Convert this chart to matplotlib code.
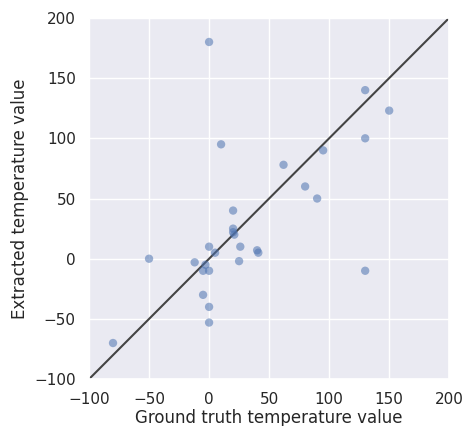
import matplotlib
matplotlib.use("Agg")
import matplotlib.pyplot as plt
import seaborn as sns

sns.set_theme(style="darkgrid")
plt.rcParams['font.family'] = ['DejaVu Sans']

ground_truth = [0, 10, 130, 150, 130, 95, 62, 80, 90, 20, 20, 20, 21, 0, 5, 26, 40, 41,
                -50, -12, 25, -3, -5, 0, -5, 0, 0, -80, 130]
extracted = [180, 95, 140, 123, 100, 90, 78, 60, 50, 40, 25, 22, 20, 10, 5, 10, 7, 5,
             0, -3, -2, -5, -10, -10, -30, -40, -53, -70, -10]
lims = [-100, 200]

fig = plt.figure(figsize=(4.66, 4.26), dpi=100)
ax = fig.add_axes([0.191, 0.110, 0.773, 0.848])
ax.scatter(ground_truth, extracted, s=36, alpha=0.55, color="#4c72b0", edgecolor="none", zorder=3)
ax.plot(lims, lims, color="#444444", linewidth=1.5, zorder=2)
ax.set_xlim(lims)
ax.set_ylim(lims)
ax.set_xticks([-100, -50, 0, 50, 100, 150, 200])
ax.set_yticks([-100, -50, 0, 50, 100, 150, 200])
ax.set_xlabel("Ground truth temperature value", fontsize=12, labelpad=1)
ax.set_ylabel("Extracted temperature value", fontsize=12)
ax.tick_params(labelsize=11)
fig.savefig("out.png", dpi=100)
